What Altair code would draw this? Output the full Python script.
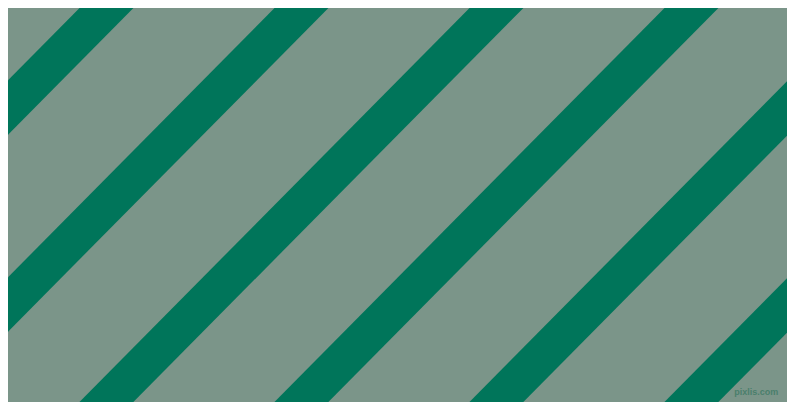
import altair as alt
import pandas as pd

bg_color = "#7b9589"
stripe_color = "#00755a"

# Image-pixel geometry of the reference (795 x 412)
img_w = 795
img_h = 412
# x where each stripe's two edges meet the top border
stripe_top_left = [-126, 73, 272, 471, 670, 869, 1068]
stripe_top_right = [-71, 128, 327, 526, 725, 924, 1123]
edge_slope = 1.035  # rise (downwards) per px moved left
x_ends = [-80, 880]

label_text = ["pixlis.com"]
label_x = [786]
label_y = [407]

rows = []
for i, (a, b) in enumerate(zip(stripe_top_left, stripe_top_right)):
    for x in x_ends:
        rows.append({"stripe": f"s{i}", "x": x,
                     "y": edge_slope * (a - x), "y2": edge_slope * (b - x)})
stripes = pd.DataFrame(rows)
labels = pd.DataFrame({"t": label_text, "x": label_x, "y": label_y})

xs = alt.Scale(domain=[0, img_w], nice=False, zero=False)
ys = alt.Scale(domain=[img_h, 0], nice=False, zero=False)

area = alt.Chart(stripes).mark_area(color=stripe_color, clip=True, opacity=1).encode(
    x=alt.X("x:Q", scale=xs, axis=None),
    y=alt.Y("y:Q", scale=ys, axis=None, stack=None),
    y2=alt.Y2("y2:Q"),
    detail="stripe:N",
)

text = alt.Chart(labels).mark_text(
    align="right", baseline="bottom", font="Liberation Sans", fontSize=9,
    fontWeight="bold", color="#4a7f6c"
).encode(
    x=alt.X("x:Q", scale=xs, axis=None),
    y=alt.Y("y:Q", scale=ys, axis=None),
    text="t:N",
)

chart = alt.layer(area, text).properties(
    width=779, height=394,
    background=bg_color,
    padding=0,
    autosize=alt.AutoSizeParams(type="none"),
).configure_view(stroke=None, fill=bg_color)

chart.save("out.html", embed_options={"renderer": "svg", "actions": False})
